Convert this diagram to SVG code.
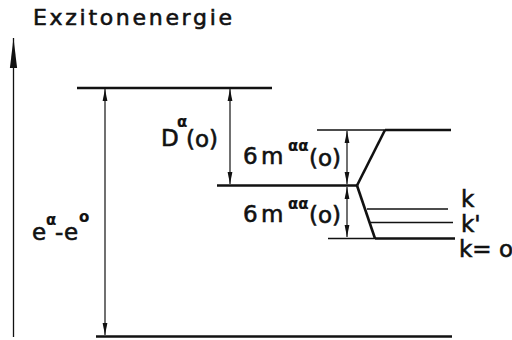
<svg xmlns="http://www.w3.org/2000/svg" width="512" height="340" viewBox="0 0 512 340">
<defs>
<style>
.lvl{stroke:#111;stroke-width:2.6;fill:none;stroke-linecap:butt}
.thin{stroke:#111;stroke-width:1.3;fill:none}
.dim{stroke:#111;stroke-width:1.2;fill:none}
text{font-family:"DejaVu Sans","Liberation Sans",sans-serif;fill:#111;stroke:#111;stroke-width:0.6}
.lab{font-size:23px}
.sup{font-size:15px;font-weight:bold;stroke-width:0.2}
</style>
<marker id="ah" viewBox="0 0 10 10" refX="10" refY="5" markerWidth="12" markerHeight="6" markerUnits="userSpaceOnUse" orient="auto-start-reverse" preserveAspectRatio="none">
<path d="M0,1 L10,5 L0,9 Z" fill="#111"/>
</marker>
<marker id="axh" viewBox="0 0 10 10" refX="10" refY="5" markerWidth="30" markerHeight="9" markerUnits="userSpaceOnUse" orient="auto" preserveAspectRatio="none">
<path d="M0,1 L10,5 L0,9 Z" fill="#111"/>
</marker>
</defs>
<rect width="512" height="340" fill="#fff"/>
<text id="title" x="33" y="25" font-size="22" textLength="199" lengthAdjust="spacing">Exzitonenergie</text>
<g id="axis"><line class="thin" x1="13.5" y1="337" x2="13.5" y2="38" marker-end="url(#axh)"/></g>
<g id="level-top"><line class="lvl" x1="77" y1="88" x2="272" y2="88"/></g>
<g id="level-bottom"><line class="lvl" x1="96" y1="336.5" x2="452" y2="336.5"/></g>
<g id="level-mid"><line class="lvl" x1="217" y1="185.5" x2="357" y2="185.5"/></g>
<g id="level-upper">
<line class="thin" x1="317" y1="130" x2="385" y2="130"/>
<line class="lvl" x1="385" y1="130" x2="451" y2="130"/>
</g>
<g id="level-k0">
<line class="thin" x1="328" y1="238.5" x2="375" y2="238.5"/>
<line class="lvl" x1="375" y1="238.5" x2="455" y2="238.5"/>
<text class="lab" x="459" y="257" font-size="19">k= o</text>
</g>
<g id="level-k">
<line class="thin" x1="367" y1="209" x2="448" y2="209"/>
<text class="lab" x="461" y="207" font-size="21">k</text>
</g>
<g id="level-kp">
<line class="thin" x1="370" y1="222.5" x2="453" y2="222.5"/>
<text class="lab" x="461" y="232" font-size="21">k'</text>
</g>
<g id="connectors">
<line class="lvl" x1="357" y1="185.5" x2="385" y2="130"/>
<line class="lvl" x1="357" y1="185.5" x2="375" y2="238.5"/>
<line class="dim" x1="105" y1="89" x2="105" y2="335" marker-start="url(#ah)" marker-end="url(#ah)"/>
<line class="dim" x1="230" y1="89" x2="230" y2="184" marker-start="url(#ah)" marker-end="url(#ah)"/>
<line class="dim" x1="347" y1="131" x2="347" y2="184" marker-start="url(#ah)" marker-end="url(#ah)"/>
<line class="dim" x1="347" y1="187" x2="347" y2="237" marker-start="url(#ah)" marker-end="url(#ah)"/>
</g>
<g id="label-e">
<text class="lab" x="32" y="240">e</text>
<text class="sup" x="46" y="225">α</text>
<text class="lab" x="55" y="240">-</text>
<text class="lab" x="64" y="240">e</text>
<text class="sup" x="79" y="222">o</text>
</g>
<g id="label-D">
<text class="lab" x="161" y="146">D</text>
<text class="sup" x="177" y="127">α</text>
<text class="lab" x="186" y="147">(o)</text>
</g>
<g id="label-m1">
<text class="lab" x="243" y="164">6</text>
<text class="lab" x="261" y="164">m</text>
<text class="sup" x="288" y="151">αα</text>
<text class="lab" x="309" y="166">(o)</text>
</g>
<g id="label-m2">
<text class="lab" x="243" y="222">6</text>
<text class="lab" x="261" y="222">m</text>
<text class="sup" x="288" y="209">αα</text>
<text class="lab" x="309" y="223">(o)</text>
</g>
</svg>
